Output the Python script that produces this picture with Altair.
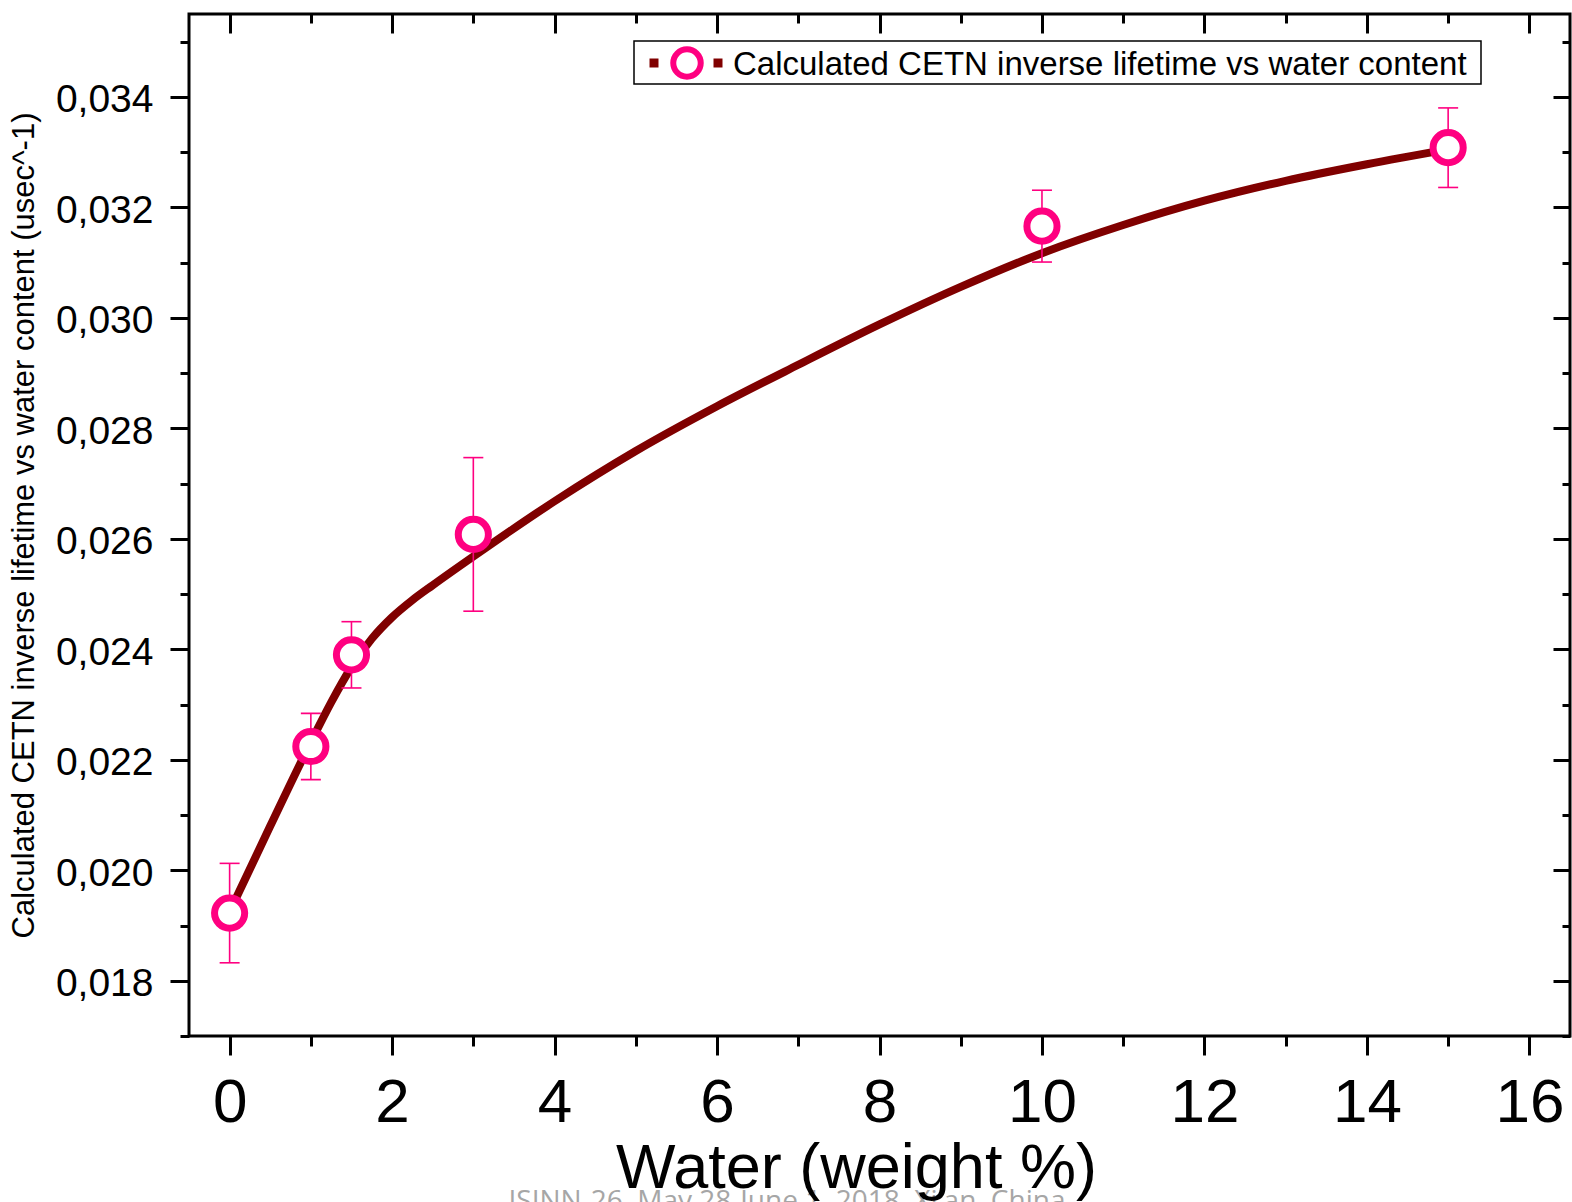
import altair as alt
import pandas as pd

# Measured inverse lifetimes (usec^-1) with their error bars
water = [0, 1, 1.5, 3, 10, 15]
inv_lifetime = [0.019225, 0.02224, 0.02390, 0.02608, 0.03166, 0.03308]
inv_lifetime_err = [0.00090, 0.00060, 0.00060, 0.00139, 0.00065, 0.00072]

# Fitted curve through the measurements
fit_water = [0, 0.5, 1, 1.25, 1.5, 1.75, 2, 2.25, 2.5, 3, 4, 5, 6, 7, 8, 9,
             10, 11, 12, 13, 14, 15]
fit_inv_lifetime = [0.01925, 0.02080, 0.02232, 0.02304, 0.02368, 0.02419,
                    0.02458, 0.02489, 0.02516, 0.02568, 0.02668, 0.02759,
                    0.02840, 0.02915, 0.02988, 0.03056, 0.03117, 0.03168,
                    0.03212, 0.03248, 0.03278, 0.03305]

# Axis ticks
x_major = [0, 2, 4, 6, 8, 10, 12, 14, 16]
x_minor = [1, 3, 5, 7, 9, 11, 13, 15]
y_major = [0.018, 0.020, 0.022, 0.024, 0.026, 0.028, 0.030, 0.032, 0.034]
y_minor = [0.017, 0.019, 0.021, 0.023, 0.025, 0.027, 0.029, 0.031, 0.033, 0.035]

x_title = "Water (weight %)"
y_title = "Calculated CETN inverse lifetime vs water content (usec^-1)"
series_label = "Calculated CETN inverse lifetime vs water content"
footer = "ISINN-26, May 28-June 1, 2018, Xi'an, China"

PINK = "#FF0080"
MAROON = "#800000"
FONT = "Liberation Sans"

pts = pd.DataFrame({
    "water": water,
    "rate": inv_lifetime,
    "lo": [v - e for v, e in zip(inv_lifetime, inv_lifetime_err)],
    "hi": [v + e for v, e in zip(inv_lifetime, inv_lifetime_err)],
})
fit = pd.DataFrame({"water": fit_water, "rate": fit_inv_lifetime})

xs = alt.Scale(domain=[-0.5, 16.5], nice=False, zero=False)
ys = alt.Scale(domain=[0.017, 0.0355], nice=False, zero=False)

comma_fmt = "replace(format(datum.value, '.3f'), '.', ',')"

# bottom / left axes: major ticks with labels, minor ticks without
ax_bottom_major = alt.Axis(orient="bottom", values=x_major, tickSize=19,
                           labelFontSize=62, labelPadding=17, labelFont=FONT,
                           title=x_title, titleFontSize=63, titleFont=FONT,
                           titleFontWeight="normal", titleBaseline="alphabetic",
                           titleX=667, titleY=151, titleAlign="center",
                           zindex=1)
ax_bottom_minor = alt.Axis(orient="bottom", values=x_minor, tickSize=10,
                           labels=False, title=None)
ax_left_major = alt.Axis(orient="left", values=y_major, tickSize=19,
                         labelFontSize=39, labelPadding=17, labelFont=FONT,
                         labelExpr=comma_fmt, labelOffset=3,
                         title=y_title, titleFontSize=31, titleFont=FONT,
                         titleFontWeight="normal", titleAngle=270,
                         titleBaseline="alphabetic", titleAlign="center",
                         titleX=-156, titleY=511)
ax_left_minor = alt.Axis(orient="left", values=y_minor, tickSize=9,
                         labels=False, title=None)
# top / right axes: ticks pointing into the plot
ax_top_major = alt.Axis(orient="top", values=x_major, tickSize=19, offset=-19,
                        labels=False, title=None)
ax_top_minor = alt.Axis(orient="top", values=x_minor, tickSize=9, offset=-9,
                        labels=False, title=None)
ax_right_major = alt.Axis(orient="right", values=y_major, tickSize=17,
                          offset=-17, labels=False, title=None)
ax_right_minor = alt.Axis(orient="right", values=y_minor, tickSize=8,
                          offset=-8, labels=False, title=None)

curve = alt.Chart(fit).mark_line(
    color=MAROON, strokeWidth=8, interpolate="monotone"
).encode(
    x=alt.X("water:Q", scale=xs, axis=ax_bottom_major),
    y=alt.Y("rate:Q", scale=ys, axis=ax_left_major),
)

bars = alt.Chart(pts).mark_rule(color=PINK, strokeWidth=1.6).encode(
    x=alt.X("water:Q", scale=xs, axis=ax_bottom_minor),
    y=alt.Y("lo:Q", scale=ys, axis=ax_left_minor),
    y2="hi:Q",
)

caps_lo = alt.Chart(pts).mark_tick(
    color=PINK, orient="horizontal", size=20, thickness=1.6, opacity=1
).encode(
    x=alt.X("water:Q", scale=xs, axis=None),
    y=alt.Y("lo:Q", scale=ys, axis=None),
)

caps_hi = alt.Chart(pts).mark_tick(
    color=PINK, orient="horizontal", size=20, thickness=1.6, opacity=1
).encode(
    x=alt.X("water:Q", scale=xs, axis=ax_top_minor),
    y=alt.Y("hi:Q", scale=ys, axis=ax_right_minor),
)

markers = alt.Chart(pts).mark_point(
    shape="circle", filled=True, fill="white", stroke=PINK, strokeWidth=7,
    size=908, opacity=1
).encode(
    x=alt.X("water:Q", scale=xs, axis=ax_top_major),
    y=alt.Y("rate:Q", scale=ys, axis=ax_right_major),
)

# legend box in the upper right
key = pd.DataFrame({"label": [series_label]})
legend_box = alt.Chart(key).mark_rect(
    fill="white", stroke="black", strokeWidth=1.5
).encode(x=alt.value(445), x2=alt.value(1292), y=alt.value(27), y2=alt.value(70))
legend_sq1 = alt.Chart(key).mark_square(size=81, color=MAROON, opacity=1).encode(
    x=alt.value(465), y=alt.value(49))
legend_sq2 = alt.Chart(key).mark_square(size=81, color=MAROON, opacity=1).encode(
    x=alt.value(529), y=alt.value(49))
legend_ring = alt.Chart(key).mark_point(
    shape="circle", filled=True, fill="white", stroke=PINK, strokeWidth=6,
    size=755, opacity=1
).encode(x=alt.value(498), y=alt.value(49))
legend_text = alt.Chart(key).mark_text(
    align="left", baseline="alphabetic", fontSize=33, font=FONT, color="black"
).encode(x=alt.value(544), y=alt.value(61), text="label:N")

foot = alt.Chart(pd.DataFrame({"t": [footer]})).mark_text(
    align="center", baseline="alphabetic", fontSize=28, font="Open Sans",
    color="#A6A6A6"
).encode(x=alt.value(598), y=alt.value(1196), text="t:N")

chart = alt.layer(
    foot, curve, bars, caps_lo, caps_hi, markers,
    legend_box, legend_sq1, legend_sq2, legend_ring, legend_text,
).resolve_axis(
    x="independent", y="independent"
).properties(
    width=1381, height=1022,
    padding={"left": 189, "top": 14, "right": 2, "bottom": 166},
    autosize=alt.AutoSizeParams(type="none"),
    background="white",
).configure_axis(
    domain=False, grid=False, tickColor="black", tickWidth=3,
    labelColor="black", titleColor="black",
).configure_view(
    stroke="black", strokeWidth=3
)

chart.save("out.html", embed_options={"renderer": "svg", "actions": False})
